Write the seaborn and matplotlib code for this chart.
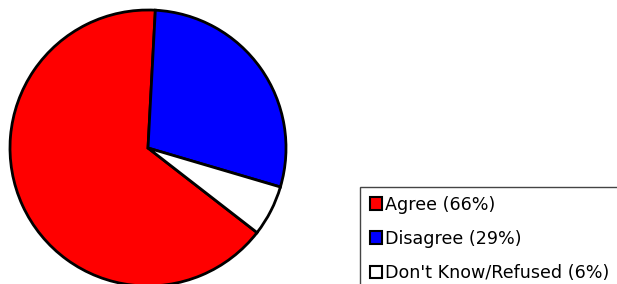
#! /usr/bin/env python3
import matplotlib
matplotlib.use("Agg")
import matplotlib.pyplot as plt
from matplotlib.patches import Patch, Rectangle
import seaborn as sns

# data
labels = ["Agree", "Disagree", "Don't Know/Refused"]
values = [66, 29, 6]
colors = ["#ff0000", "#0000ff", "#ffffff"]

W, H = 617, 284
sns.set_style("white")
plt.rcParams["font.family"] = ["DejaVu Sans"]

fig = plt.figure(figsize=(W / 100, H / 100), dpi=100)

# pie centre (148, 148) px, radius 138 px; axes spans 1.1 radius each way
cx, cy, r = 148, 148, 138
half = r * 1.1
ax = fig.add_axes([(cx - half) / W, (H - cy - half) / H, 2 * half / W, 2 * half / H])
wedges, _ = ax.pie(values, colors=colors, startangle=-37.8, counterclock=False,
                   wedgeprops=dict(edgecolor="black", linewidth=2.0))
ax.set_xlim(-1.1, 1.1)
ax.set_ylim(-1.1, 1.1)
ax.set_aspect("equal")
ax.axis("off")

# legend box runs off the right and bottom of the picture
fig.patches.append(Rectangle((360 / W, -0.2), 400 / W, 0.2 + (H - 187) / H,
                             transform=fig.transFigure, facecolor="white",
                             edgecolor="#444444", linewidth=1.0))

handles = [Patch(facecolor=c, edgecolor="black", linewidth=1.5) for c in colors]
leg_labels = [f"{l} ({v}%)" for l, v in zip(labels, values)]
leg = fig.legend(handles, leg_labels, loc="upper left",
                 bbox_to_anchor=(360 / W, 1 - 186 / H), bbox_transform=fig.transFigure,
                 frameon=False, fontsize=12.6,
                 handlelength=0.7, handleheight=0.7, handletextpad=0.2,
                 labelspacing=0.92, borderpad=0.55, borderaxespad=0)
for t in leg.get_texts():
    t.set_color("black")

fig.savefig("out.png", dpi=100)
